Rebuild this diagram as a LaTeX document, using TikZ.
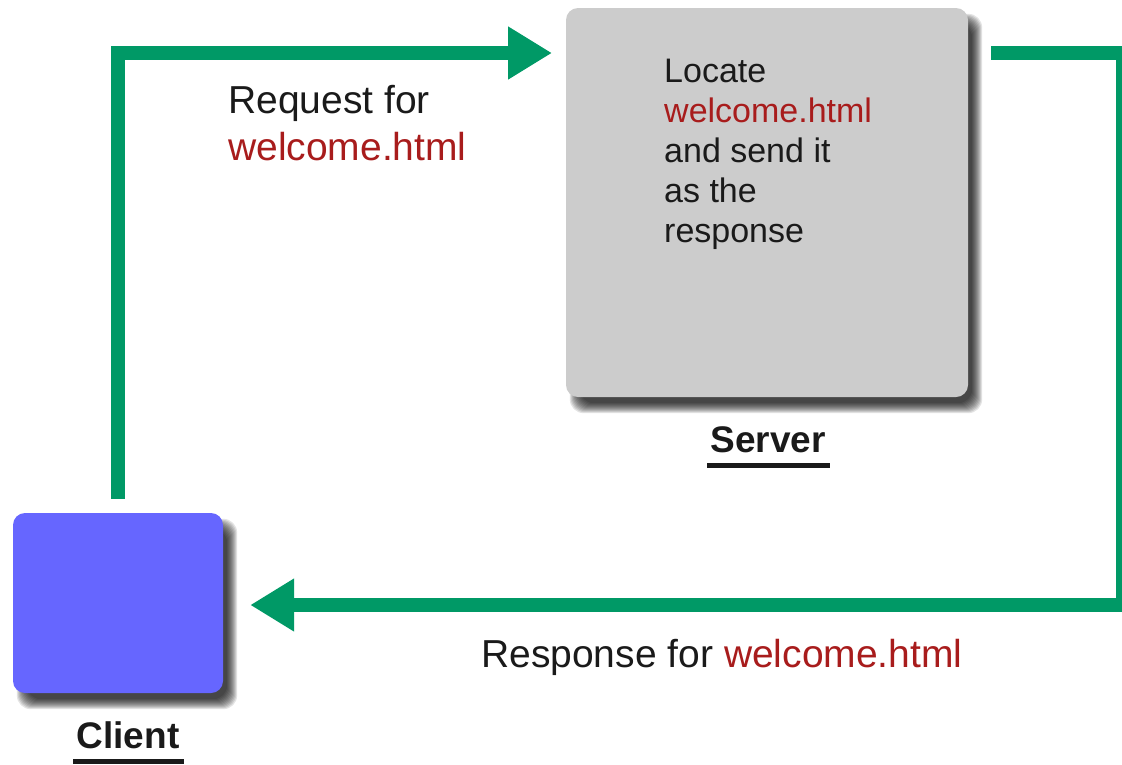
\documentclass[tikz,border=0pt]{standalone}
\usepackage{fontspec}
\setmainfont{Liberation Sans}
\usetikzlibrary{arrows.meta,calc}
\pgfdeclarelayer{background}
\pgfsetlayers{background,main}
\definecolor{flowgreen}{HTML}{009966}
\definecolor{fileRed}{HTML}{A81C1C}
\definecolor{srvgray}{HTML}{CCCCCC}
\definecolor{cliblue}{HTML}{6666FF}
\definecolor{ink}{HTML}{1A1A1A}
\begin{document}
\begin{tikzpicture}[x=1pt,y=-1pt,
  box/.style={rectangle, rounded corners=12pt, inner sep=0pt},
  flow/.style={draw=flowgreen, line width=14pt, line join=miter,
    -{Triangle[length=44pt,width=50pt]}},
  lbl/.style={inner sep=0pt, text=ink, align=left,
    font=\fontsize{39}{47}\selectfont},
  boxtxt/.style={inner sep=0pt, text=ink, align=left,
    font=\fontsize{34}{40}\selectfont},
  caption/.style={inner sep=0pt, text=ink, font=\fontsize{37}{44}\selectfont\bfseries},
  uline/.style={draw=ink, line width=5pt},
  shadowlayer/.style={fill=black, opacity=0.11, rounded corners=14pt}
]
\useasboundingbox (0,0) rectangle (1122,764);

% machines
\node[box, fill=srvgray, minimum width=402pt, minimum height=389pt] (server) at (767,202.5) {};
\node[box, fill=cliblue, minimum width=210pt, minimum height=180pt] (client) at (118,603) {};

% soft drop shadows behind both boxes
\begin{pgfonlayer}{background}
  \foreach \e in {-5,...,5} {
    \fill[shadowlayer] ($(server.north west)+(9-\e,11-\e)$) rectangle ($(server.south east)+(9+\e,11+\e)$);
    \fill[shadowlayer] ($(client.north west)+(9-\e,11-\e)$) rectangle ($(client.south east)+(9+\e,11+\e)$);
  }
\end{pgfonlayer}

% text inside the server
\node[boxtxt, anchor=north west] (srvtext) at (664,59)
  {Locate\\\textcolor{fileRed}{welcome.html}\\and send it\\as the\\response};

% captions
\node[caption, anchor=base] (srvcap) at (768,452) {Server};
\draw[uline] ([xshift=-3pt,yshift=-13pt]srvcap.base west) -- ([xshift=4pt,yshift=-13pt]srvcap.base east);
\node[caption, anchor=base] (clicap) at (128,748) {Client};
\draw[uline] ([xshift=-3pt,yshift=-13pt]clicap.base west) -- ([xshift=4pt,yshift=-13pt]clicap.base east);

% request: client up and over to the server
\coordinate (reqend) at (552,53);
\draw[flow] ([yshift=14pt]client.north) |- (reqend);
\node[lbl, anchor=north west] (reqlbl) at (228,85.5)
  {Request for\\\textcolor{fileRed}{welcome.html}};

% response: server round the right side back to the client
\coordinate (resstart) at (991,53);
\coordinate (rescorner) at (1123,605);
\draw[flow] (resstart) -| (rescorner) -- ([xshift=27pt]client.east |- rescorner);
\node[lbl, anchor=base west] (reslbl) at (481,667)
  {Response for \textcolor{fileRed}{welcome.html}};
\end{tikzpicture}
\end{document}
